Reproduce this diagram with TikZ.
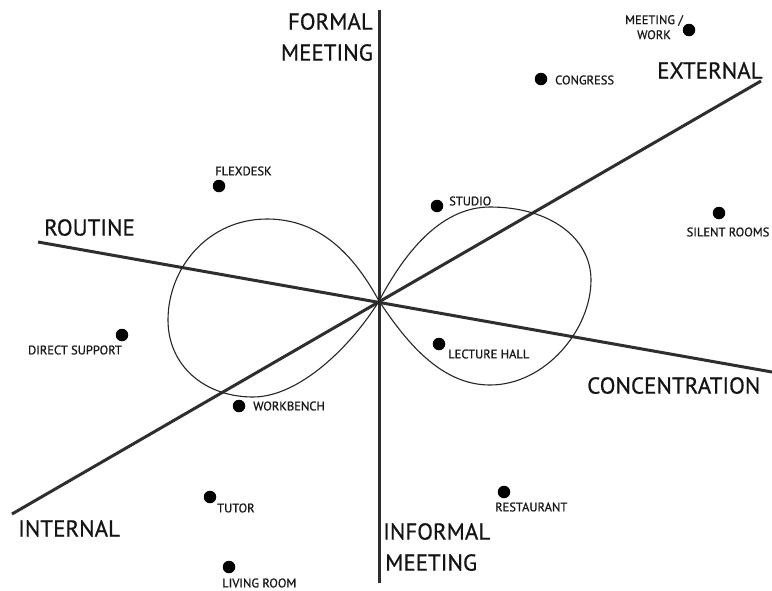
\documentclass[tikz,border=0pt]{standalone}
\usepackage{fontspec}
\setmainfont{PT Sans}
\newfontfamily\bigfam[FakeBold=0.6]{PT Sans}
\newfontfamily\smallfam[FakeBold=0.9]{PT Sans}
\begin{document}
\begin{tikzpicture}[x=1pt,y=-1pt,
  axis/.style={line width=3pt,draw=black!82},
  loop/.style={line width=1.1pt,draw=black!85},
  bigtxt/.style={inner sep=0pt,font=\bigfam\fontsize{23}{31}\selectfont,text=black!92},
  smalltxt/.style={inner sep=0pt,font=\smallfam\fontsize{12.5}{15}\selectfont,text=black!90},
  spot/.style={circle,fill=black,inner sep=0pt,minimum size=12.5pt}]
\fill[white] (0,0) rectangle (772,590);
\useasboundingbox (0,0) rectangle (772,590);
% axes
\coordinate (C) at (379,301);
\coordinate (vtop) at (379,10);
\coordinate (vbot) at (379,583);
\coordinate (rout) at (38,242);
\coordinate (conc) at (772,372);
\coordinate (intl) at (12,514);
\coordinate (extl) at (761,81);
\draw[axis] (vtop) -- (vbot);
\draw[axis] (rout) -- (conc);
\draw[axis] (intl) -- (extl);
% figure eight
\draw[loop] (C) .. controls (404,254) and (440,207) .. (490,207)
  .. controls (550,207) and (591,238) .. (591,280)
  .. controls (591,330) and (545,385) .. (490,385)
  .. controls (440,385) and (405,340) .. (C);
\draw[loop] (C) .. controls (354,255) and (320,219) .. (267,219)
  .. controls (208,219) and (168,268) .. (168,320)
  .. controls (168,366) and (205,397) .. (253,397)
  .. controls (300,397) and (352,345) .. (C);
% axis labels
\node[bigtxt,anchor=north east,align=right] (formal) at (373,13) {FORMAL\\MEETING};
\node[bigtxt,anchor=north west] (external) at (657,62) {EXTERNAL};
\node[bigtxt,anchor=north west] (routine) at (44,219) {ROUTINE};
\node[bigtxt,anchor=north west] (concentration) at (587,377) {CONCENTRATION};
\node[bigtxt,anchor=north west] (internal) at (18,520) {INTERNAL};
\node[bigtxt,anchor=north west,align=left] (informal) at (383,523) {INFORMAL\\\hspace*{2pt}MEETING};
% places
\node[spot] (dMW) at (689,30) {};
\node[smalltxt,anchor=north,align=center] (lMW) at (654,15) {MEETING /\\WORK};
\node[spot] (dCG) at (541,79) {};
\node[smalltxt,anchor=west] (lCG) at (555,80) {CONGRESS};
\node[spot] (dFD) at (219,186) {};
\node[smalltxt,anchor=west] (lFD) at (215,171) {FLEXDESK};
\node[spot] (dST) at (437,206) {};
\node[smalltxt,anchor=west] (lST) at (449,201) {STUDIO};
\node[spot] (dSR) at (719,213) {};
\node[smalltxt,anchor=center] (lSR) at (728,232) {SILENT ROOMS};
\node[spot] (dDS) at (122,335) {};
\node[smalltxt,anchor=east] (lDS) at (122,350) {DIRECT SUPPORT};
\node[spot] (dLH) at (439,344) {};
\node[smalltxt,anchor=west] (lLH) at (448,354) {LECTURE HALL};
\node[spot] (dWB) at (239,406) {};
\node[smalltxt,anchor=west] (lWB) at (253,406) {WORKBENCH};
\node[spot] (dTU) at (210,497) {};
\node[smalltxt,anchor=west] (lTU) at (217,508) {TUTOR};
\node[spot] (dLR) at (229,567) {};
\node[smalltxt,anchor=west] (lLR) at (222,583) {LIVING ROOM};
\node[spot] (dRS) at (504,492) {};
\node[smalltxt,anchor=west] (lRS) at (495,507) {RESTAURANT};
\end{tikzpicture}
\end{document}
